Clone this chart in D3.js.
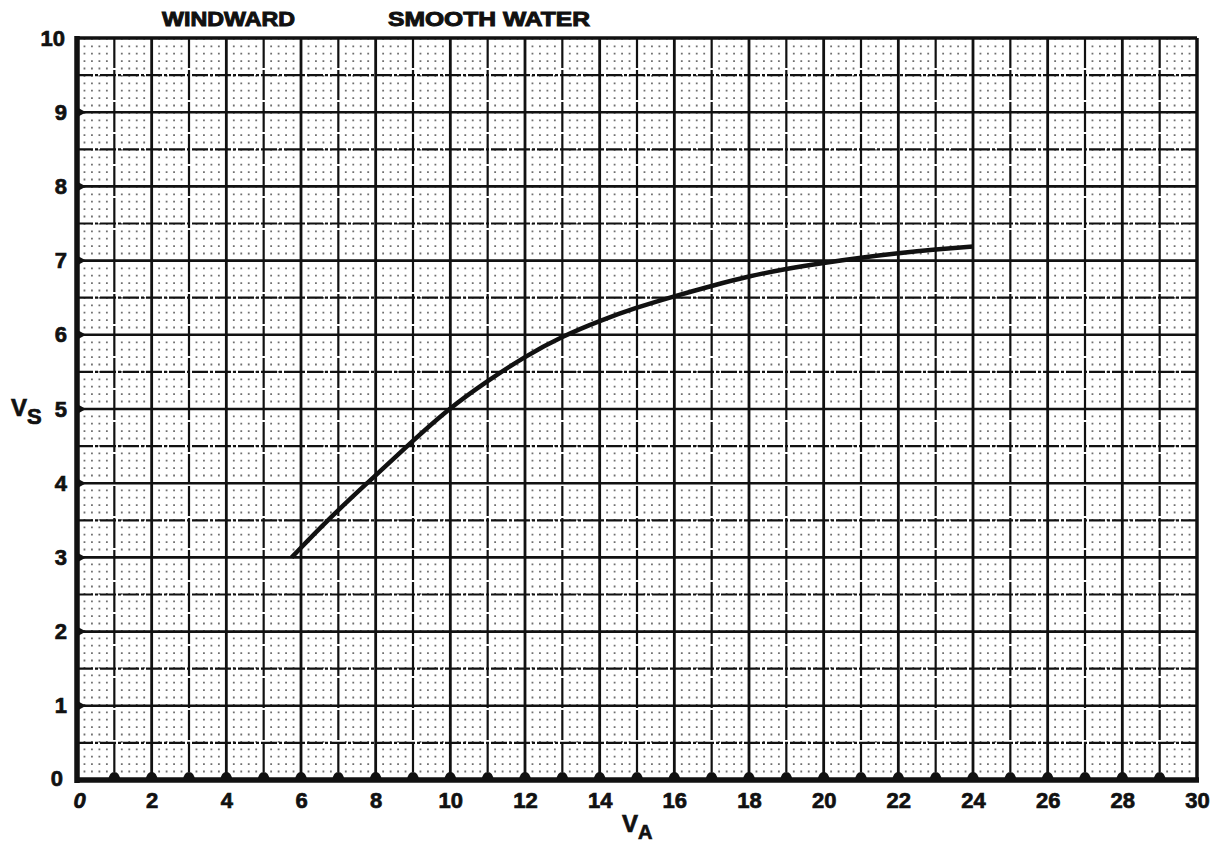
<!DOCTYPE html>
<html>
<head>
<meta charset="utf-8">
<script src="https://cdn.jsdelivr.net/npm/d3@7"></script>
<style>
  body { margin: 0; background: #fff; }
  text { font-family: "Liberation Sans", Arial, sans-serif; font-weight: bold; fill: #111; stroke: #111; stroke-width: 0.7px; }
</style>
</head>
<body>
<div id="chart"></div>
<script>
// curve (V_A, V_S)
const windSpeed = [5.75, 6.7, 7.77, 8.84, 9.94, 11, 12, 13, 14, 15, 16, 17, 18, 19, 20, 21, 22, 23, 24];
const boatSpeed = [3.0, 3.5, 4.0, 4.5, 5.0, 5.38, 5.71, 5.98, 6.19, 6.37, 6.52, 6.66, 6.79, 6.89, 6.97, 7.04, 7.1, 7.15, 7.19];
const xTicks = [0, 2, 4, 6, 8, 10, 12, 14, 16, 18, 20, 22, 24, 26, 28, 30];
const yTicks = [0, 1, 2, 3, 4, 5, 6, 7, 8, 9, 10];
const titles = ['WINDWARD', 'SMOOTH WATER'];

const width = 1225, height = 842;
const margin = { top: 38, right: 28, bottom: 62, left: 77 };

const svg = d3.select('#chart').append('svg')
  .attr('width', width)
  .attr('height', height);

const x = d3.scaleLinear().domain([0, 30]).range([margin.left, width - margin.right]);
const y = d3.scaleLinear().domain([0, 10]).range([height - margin.bottom, margin.top]);

const grid = svg.append('g');

// minor dotted grid
const minorX = d3.range(0, 30, 0.2).filter(v => Math.abs(v - Math.round(v)) > 0.01);
grid.selectAll('line.mx').data(minorX).enter().append('line')
  .attr('x1', d => x(d)).attr('x2', d => x(d))
  .attr('y1', y(10)).attr('y2', y(0))
  .attr('stroke', '#111').attr('stroke-width', 1.8)
  .attr('stroke-dasharray', '1.8,5.6')
  .attr('opacity', 0.6);

// half-unit dashed horizontals
const halfY = d3.range(0.5, 10, 1);
grid.selectAll('line.hy').data(halfY).enter().append('line')
  .attr('x1', x(0)).attr('x2', x(30))
  .attr('y1', d => y(d)).attr('y2', d => y(d))
  .attr('stroke', '#111').attr('stroke-width', 2.2)
  .attr('stroke-dasharray', '16,2,3,2');

// integer horizontals
grid.selectAll('line.iy').data(d3.range(1, 10)).enter().append('line')
  .attr('x1', x(0)).attr('x2', x(30))
  .attr('y1', d => y(d)).attr('y2', d => y(d))
  .attr('stroke', '#111').attr('stroke-width', 2.6);

// vertical unit lines
grid.selectAll('line.vx').data(d3.range(1, 30)).enter().append('line')
  .attr('x1', d => x(d)).attr('x2', d => x(d))
  .attr('y1', y(10)).attr('y2', y(0))
  .attr('stroke', '#111')
  .attr('stroke-width', d => d % 2 === 0 ? 2.8 : 2.2)
  .attr('stroke-dasharray', d => d % 2 === 0 ? null : '30,2');

// frame
svg.append('line').attr('x1', x(0)).attr('x2', x(30)).attr('y1', y(10)).attr('y2', y(10))
  .attr('stroke', '#111').attr('stroke-width', 3.5);
svg.append('line').attr('x1', x(30)).attr('x2', x(30)).attr('y1', y(10)).attr('y2', y(0))
  .attr('stroke', '#111').attr('stroke-width', 3.5);
svg.append('line').attr('x1', x(0)).attr('x2', x(0)).attr('y1', y(10) - 2).attr('y2', y(0) + 3)
  .attr('stroke', '#111').attr('stroke-width', 5.5);
svg.append('line').attr('x1', x(0) - 2).attr('x2', x(30) + 2).attr('y1', y(0)).attr('y2', y(0))
  .attr('stroke', '#111').attr('stroke-width', 5.5);

// tick bumps
svg.append('g').selectAll('path').data(d3.range(1, 30)).enter().append('path')
  .attr('d', d => `M${x(d) - 6},${y(0)} Q${x(d) - 5},${y(0) - 8} ${x(d)},${y(0) - 8} Q${x(d) + 5},${y(0) - 8} ${x(d) + 6},${y(0)} Z`)
  .attr('fill', '#111');
svg.append('g').selectAll('path').data(d3.range(1, 10)).enter().append('path')
  .attr('d', d => `M${x(0)},${y(d) - 5} L${x(0) + 9},${y(d)} L${x(0)},${y(d) + 5} Z`)
  .attr('fill', '#111');

// axes
const xAxis = svg.append('g')
  .attr('transform', `translate(0,${y(0) + 4})`)
  .call(d3.axisBottom(x).tickValues(xTicks).tickSize(0).tickPadding(8).tickFormat(d3.format('d')));
xAxis.select('.domain').remove();
xAxis.selectAll('text').attr('font-size', 22).attr('font-family', '"Liberation Sans", Arial, sans-serif')
  .attr('font-weight', 'bold').attr('fill', '#111');
xAxis.selectAll('text').filter(d => d === 0).attr('font-style', 'italic').attr('dx', 2);

const yAxis = svg.append('g')
  .attr('transform', `translate(${x(0) - 8},0)`)
  .call(d3.axisLeft(y).tickValues(yTicks).tickSize(0).tickPadding(2).tickFormat(d3.format('d')));
yAxis.select('.domain').remove();
yAxis.selectAll('text').attr('font-size', 22).attr('font-family', '"Liberation Sans", Arial, sans-serif')
  .attr('font-weight', 'bold').attr('fill', '#111');
yAxis.selectAll('text').filter(d => d === 0).attr('dx', -4).attr('dy', '0.25em');
yAxis.selectAll('text').filter(d => d === 10).attr('dx', -2);

// curve
const pts = windSpeed.map((v, i) => [v, boatSpeed[i]]);
svg.append('path')
  .datum(pts)
  .attr('fill', 'none')
  .attr('stroke', '#111')
  .attr('stroke-width', 4.5)
  .attr('stroke-linecap', 'butt')
  .attr('d', d3.line().x(d => x(d[0])).y(d => y(d[1])).curve(d3.curveBasis));

// titles
svg.append('text').attr('x', 162).attr('y', 26).attr('font-size', 21).style('stroke-width', '1px')
  .attr('textLength', 133).attr('lengthAdjust', 'spacingAndGlyphs').text(titles[0]);
svg.append('text').attr('x', 388).attr('y', 26).attr('font-size', 21).style('stroke-width', '1px')
  .attr('textLength', 202).attr('lengthAdjust', 'spacingAndGlyphs').text(titles[1]);

// axis titles
const vs = svg.append('text').attr('x', 11).attr('y', 416).attr('font-size', 24);
vs.append('tspan').text('V');
vs.append('tspan').attr('dy', 8).attr('font-size', 22).text('S');

const va = svg.append('text').attr('x', 622).attr('y', 832).attr('font-size', 24);
va.append('tspan').text('V');
va.append('tspan').attr('dy', 7).attr('font-size', 20).text('A');
</script>
</body>
</html>
